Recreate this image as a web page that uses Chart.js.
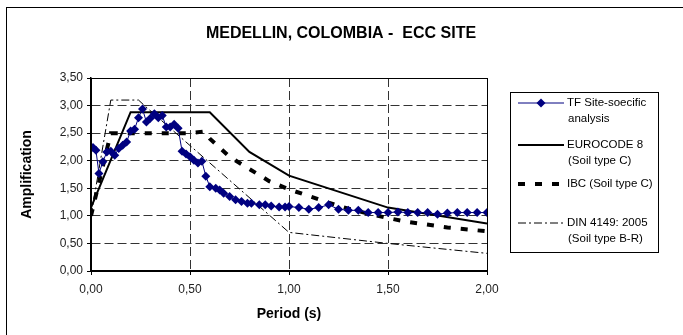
<!DOCTYPE html>
<html>
<head>
<meta charset="utf-8">
<script src="https://cdn.jsdelivr.net/npm/chart.js@4.4.0/dist/chart.umd.min.js"></script>
<style>
  html, body { margin: 0; padding: 0; background: #fff; }
</style>
</head>
<body>
<canvas id="chart" width="683" height="335"></canvas>
<script>
// --- Data ---
const tfPeriods = [0.01, 0.025, 0.04, 0.06, 0.08,
    0.10, 0.12, 0.14, 0.16, 0.18, 0.20, 0.22, 0.24, 0.26, 0.28, 0.30, 0.32, 0.34, 0.36, 0.38,
    0.40, 0.42, 0.44, 0.46, 0.48, 0.50, 0.52, 0.54, 0.56, 0.58, 0.60,
    0.63, 0.65, 0.67, 0.70, 0.73, 0.76, 0.79, 0.81, 0.85, 0.88, 0.91, 0.95, 0.98,
    1.00, 1.05, 1.10, 1.15, 1.20, 1.25, 1.30, 1.35, 1.40, 1.45, 1.50,
    1.55, 1.60, 1.65, 1.70, 1.75, 1.80, 1.85, 1.90, 1.95, 2.00];
const tfValues = [2.24, 2.19, 1.77, 1.98, 2.16,
    2.17, 2.10, 2.22, 2.28, 2.34, 2.54, 2.57, 2.78, 2.94, 2.70, 2.77, 2.85, 2.78, 2.82, 2.61,
    2.61, 2.66, 2.59, 2.17, 2.12, 2.07, 2.01, 1.96, 1.99, 1.72, 1.53,
    1.50, 1.47, 1.41, 1.35, 1.29, 1.26, 1.23, 1.23, 1.20, 1.20, 1.18, 1.16, 1.16,
    1.17, 1.15, 1.12, 1.15, 1.20, 1.12, 1.10, 1.10, 1.06, 1.06, 1.06,
    1.07, 1.06, 1.06, 1.06, 1.03, 1.05, 1.06, 1.06, 1.06, 1.06];

const ec8Periods = [0, 0.2, 0.6, 0.8, 1.0, 1.5, 2.0];
const ec8Values = [1.15, 2.88, 2.88, 2.16, 1.73, 1.15, 0.86];

const ibcPeriods = [0, 0.1, 0.5, 0.57, 0.6, 0.7, 0.8, 0.9, 1.0, 1.1, 1.2, 1.3, 1.4, 1.5, 1.6, 1.8, 2.0];
const ibcValues = [1.0, 2.5, 2.5, 2.53, 2.4, 2.07, 1.85, 1.63, 1.48, 1.36, 1.24, 1.13, 1.04, 0.96, 0.89, 0.79, 0.72];

const dinPeriods = [0, 0.1, 0.24, 0.27, 1.0, 1.5, 2.0];
const dinValues = [1.0, 3.1, 3.1, 3.0, 0.7, 0.5, 0.32];

const xTicks = [0, 0.5, 1.0, 1.5, 2.0];
const yTicks = [0, 0.5, 1.0, 1.5, 2.0, 2.5, 3.0, 3.5];

const chartTitle = 'MEDELLIN, COLOMBIA -  ECC SITE';
const legendLines = [
    ['TF Site-soecific', 'analysis'],
    ['EUROCODE 8', '(Soil type C)'],
    ['IBC (Soil type C)'],
    ['DIN 4149: 2005', '(Soil type B-R)']
];

const FONT = '"Liberation Sans", Arial, sans-serif';

function toPoints(xs, ys) {
    return xs.map((x, i) => ({ x, y: ys[i] }));
}

function fmt(v) {
    return Number(v).toFixed(2).replace('.', ',');
}

// --- Plugins ---
const frameAndTitle = {
    id: 'frameAndTitle',
    beforeDraw(chart) {
        const ctx = chart.ctx;
        ctx.save();
        ctx.fillStyle = '#fff';
        ctx.fillRect(0, 0, chart.width, chart.height);
        ctx.strokeStyle = '#000';
        ctx.lineWidth = 1;
        ctx.strokeRect(6.5, 7.5, 690, 340);
        ctx.restore();
    },
    afterDraw(chart) {
        const ctx = chart.ctx;
        const a = chart.chartArea;
        ctx.save();
        // plot frame
        ctx.strokeStyle = '#000';
        ctx.lineWidth = 1;
        ctx.strokeRect(Math.round(a.left) + 0.5, Math.round(a.top) + 0.5,
            Math.round(a.right - a.left), Math.round(a.bottom - a.top));
        // title
        ctx.fillStyle = '#000';
        ctx.font = 'bold 16px ' + FONT;
        ctx.textAlign = 'center';
        ctx.textBaseline = 'middle';
        ctx.fillText(chartTitle, 341, 34);

        // legend box
        ctx.strokeRect(510.5, 92.5, 148, 160);
        const rows = [103, 145, 184, 223];
        ctx.font = '11.5px ' + FONT;
        ctx.textAlign = 'left';
        chart.data.datasets.forEach((ds, i) => {
            const y = rows[i];
            ctx.save();
            ctx.strokeStyle = ds.borderColor;
            ctx.lineWidth = ds.borderWidth;
            ctx.setLineDash(ds.borderDash || []);
            ctx.beginPath();
            ctx.moveTo(518, y);
            ctx.lineTo(564, y);
            ctx.stroke();
            if (ds.pointRadius > 0) {
                ctx.setLineDash([]);
                ctx.fillStyle = ds.pointBackgroundColor;
                ctx.beginPath();
                ctx.moveTo(541, y - 4.5);
                ctx.lineTo(545.5, y);
                ctx.lineTo(541, y + 4.5);
                ctx.lineTo(536.5, y);
                ctx.closePath();
                ctx.fill();
            }
            ctx.restore();
            ctx.fillStyle = '#000';
            legendLines[i].forEach((t, j) => {
                ctx.fillText(t, j === 0 ? 567 : 568, y + j * 16);
            });
        });
        ctx.restore();
    }
};

// --- Chart ---
const ctx = document.getElementById('chart').getContext('2d');
new Chart(ctx, {
    type: 'scatter',
    data: {
        datasets: [
            {
                label: 'TF Site-soecific analysis',
                data: toPoints(tfPeriods, tfValues),
                showLine: true,
                borderColor: '#000080',
                borderWidth: 1,
                pointStyle: 'rectRot',
                pointRadius: 4.5,
                pointBackgroundColor: '#000080',
                pointBorderColor: '#000080',
                pointBorderWidth: 0,
                order: 0
            },
            {
                label: 'EUROCODE 8 (Soil type C)',
                data: toPoints(ec8Periods, ec8Values),
                showLine: true,
                borderColor: '#000',
                borderWidth: 2,
                pointRadius: 0,
                order: 1
            },
            {
                label: 'IBC (Soil type C)',
                data: toPoints(ibcPeriods, ibcValues),
                showLine: true,
                borderColor: '#000',
                borderWidth: 4,
                borderDash: [7, 10],
                pointRadius: 0,
                order: 2
            },
            {
                label: 'DIN 4149: 2005 (Soil type B-R)',
                data: toPoints(dinPeriods, dinValues),
                showLine: true,
                borderColor: '#000',
                borderWidth: 1,
                borderDash: [8, 3, 2, 3],
                pointRadius: 0,
                order: 3
            }
        ]
    },
    options: {
        responsive: false,
        animation: false,
        layout: { padding: { top: 78, right: 196, bottom: 0, left: 0 } },
        plugins: {
            legend: { display: false },
            title: { display: false },
            tooltip: { enabled: false }
        },
        scales: {
            x: {
                type: 'linear',
                min: 0,
                max: 2,
                afterBuildTicks: s => { s.ticks = xTicks.map(v => ({ value: v })); },
                afterFit: s => { s.height = 64; },
                ticks: {
                    color: '#222',
                    font: { family: FONT, size: 12 },
                    padding: 7,
                    callback: v => fmt(v)
                },
                grid: {
                    color: '#333',
                    lineWidth: 1,
                    tickLength: 4,
                    tickColor: '#000'
                },
                border: { display: true, color: '#000', width: 1.5, dash: [9, 4] },
                title: {
                    display: true,
                    text: 'Period (s)',
                    color: '#000',
                    font: { family: FONT, size: 14, weight: 'bold' },
                    padding: { top: 0, bottom: 12 }
                }
            },
            y: {
                type: 'linear',
                min: 0,
                max: 3.5,
                afterBuildTicks: s => { s.ticks = yTicks.map(v => ({ value: v })); },
                afterFit: s => { s.width = 91; },
                ticks: {
                    color: '#222',
                    font: { family: FONT, size: 12 },
                    padding: 4,
                    callback: v => fmt(v)
                },
                grid: {
                    color: '#333',
                    lineWidth: 1,
                    tickLength: 4,
                    tickColor: '#000'
                },
                border: { display: true, color: '#000', width: 1.5, dash: [9, 4] },
                title: {
                    display: true,
                    text: 'Amplification',
                    color: '#000',
                    font: { family: FONT, size: 14, weight: 'bold' },
                    padding: { top: 19, bottom: 0 }
                }
            }
        }
    },
    plugins: [frameAndTitle]
});
</script>
</body>
</html>
